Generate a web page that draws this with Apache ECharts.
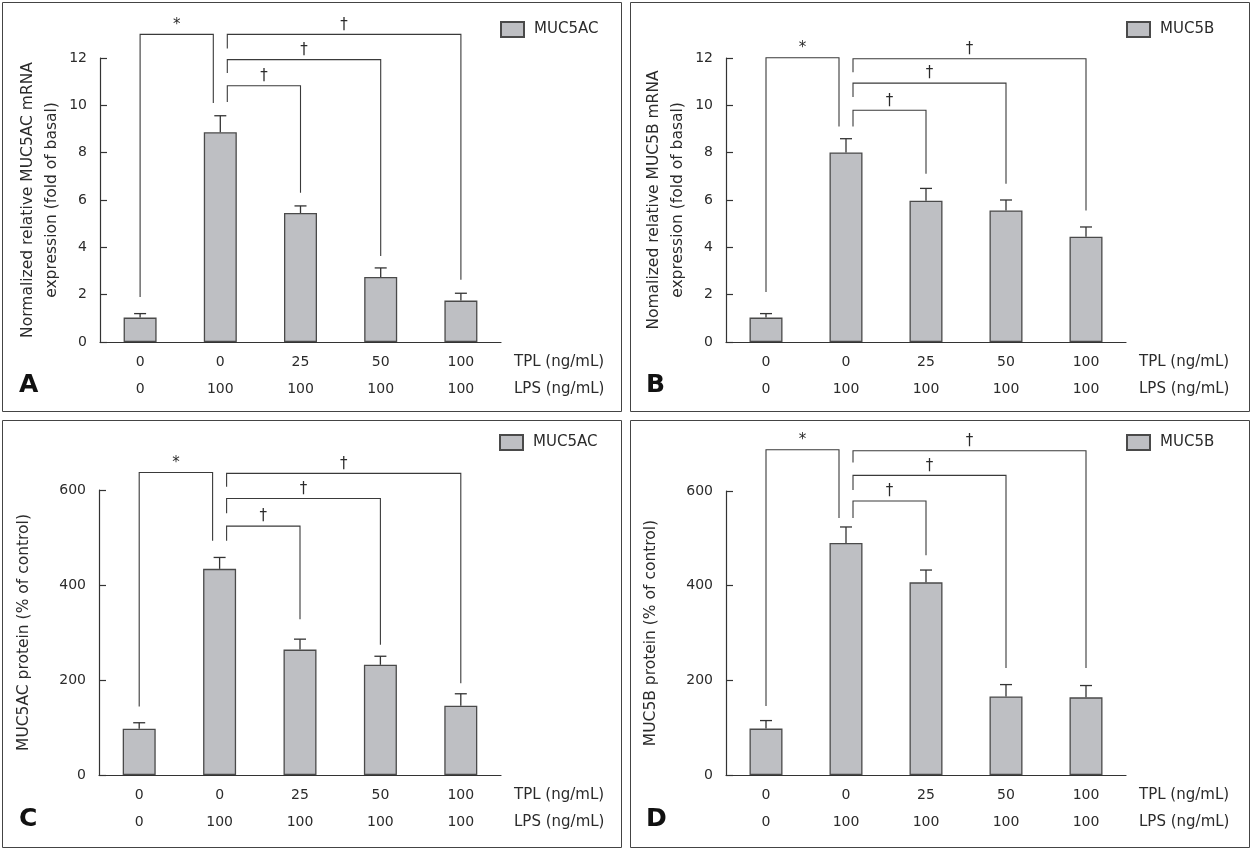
<!DOCTYPE html>
<html>
<head>
<meta charset="utf-8">
<script src="https://cdn.jsdelivr.net/npm/echarts@6/dist/echarts.min.js"></script>
<style>html,body{margin:0;padding:0;background:#fff}#c{width:1252px;height:849px}</style>
</head>
<body>
<div id="c"></div>
<script>
// ---- data ----
const tplLabels = ['0', '0', '25', '50', '100'];
const lpsLabels = ['0', '100', '100', '100', '100'];
const panelLetters = ['A', 'B', 'C', 'D'];
const seriesNames = ['MUC5AC', 'MUC5B', 'MUC5AC', 'MUC5B'];
const yNames = [
  'Normalized relative MUC5AC mRNA\nexpression (fold of basal)',
  'Nomalized relative MUC5B mRNA\nexpression (fold of basal)',
  'MUC5AC protein (% of control)',
  'MUC5B protein (% of control)'
];
const yMax = [12, 12, 600, 600];
const yStep = [2, 2, 200, 200];

const mrnaMUC5AC = [1.03, 8.86, 5.45, 2.75, 1.75];
const mrnaMUC5ACsem = [0.17, 0.70, 0.30, 0.38, 0.31];
const mrnaMUC5B = [1.03, 8.01, 5.97, 5.56, 4.45];
const mrnaMUC5Bsem = [0.17, 0.58, 0.52, 0.44, 0.41];
const protMUC5AC = [97.5, 434, 264, 232, 146];
const protMUC5ACsem = [12.5, 24, 22, 18, 25];
const protMUC5B = [98, 490, 407, 166, 164];
const protMUC5Bsem = [17, 34, 26, 25, 25];

// brackets: [fromIndex, toIndex, topValue, fromLegBottom, toLegBottom]
const bracketsA = [[0, 1, 13.0, 1.9, 10.1], [1, 2, 10.83, 10.14, 6.31], [1, 3, 11.93, 11.37, 3.63], [1, 4, 13.0, 12.4, 2.63]];
const bracketsB = [[0, 1, 12.01, 2.11, 9.11], [1, 2, 9.79, 9.11, 7.11], [1, 3, 10.94, 10.35, 6.69], [1, 4, 11.97, 11.4, 5.56]];
const bracketsC = [[0, 1, 637, 144, 493], [1, 2, 524, 493, 328], [1, 3, 582, 551, 274], [1, 4, 635, 607, 193]];
const bracketsD = [[0, 1, 687, 146, 543], [1, 2, 579, 543, 464], [1, 3, 633, 602, 226], [1, 4, 685, 660, 226]];
const bracketMarks = ['*', '\u2020', '\u2020', '\u2020'];

const values = [mrnaMUC5AC, mrnaMUC5B, protMUC5AC, protMUC5B];
const sems = [mrnaMUC5ACsem, mrnaMUC5Bsem, protMUC5ACsem, protMUC5Bsem];
const brackets = [bracketsA, bracketsB, bracketsC, bracketsD];

// ---- layout / style ----
const FONT = 'DejaVu Sans';
const TXT = '#2b2b2b';
const LINE = '#333';
const grids = [
  {left: 100, top: 58, width: 401, height: 284},
  {left: 726, top: 58, width: 400, height: 284},
  {left: 99, top: 490, width: 402, height: 285},
  {left: 726, top: 491, width: 400, height: 284}
];
const nameGaps = [36, 36, 63, 63];

const chart = echarts.init(document.getElementById('c'), null, {renderer: 'canvas'});

const xAxes = [], yAxes = [], series = [], legends = [], titles = [];

grids.forEach((g, i) => {
  xAxes.push({
    type: 'category', gridIndex: i, data: tplLabels, boundaryGap: true,
    axisLine: {lineStyle: {color: LINE, width: 1.2}},
    axisTick: {inside: true, length: 8, lineStyle: {color: LINE, width: 1.2}},
    axisLabel: {show: false}
  });
  [[tplLabels, 'TPL (ng/mL)', 20.5], [lpsLabels, 'LPS (ng/mL)', 47.5]].forEach(([labs, nm, off]) => {
    xAxes.push({
      type: 'category', gridIndex: i, data: labs, position: 'bottom', offset: off,
      axisLine: {show: false}, axisTick: {show: false},
      axisLabel: {margin: 0, verticalAlign: 'middle', color: TXT, fontFamily: FONT, fontSize: 14},
      name: nm, nameLocation: 'end', nameGap: 13,
      nameTextStyle: {color: TXT, fontFamily: FONT, fontSize: 15, verticalAlign: 'middle'}
    });
  });
  yAxes.push({
    type: 'value', gridIndex: i, min: 0, max: yMax[i], interval: yStep[i],
    axisLine: {show: true, lineStyle: {color: LINE, width: 1.2}},
    axisTick: {show: true, inside: true, length: 7, lineStyle: {color: LINE, width: 1.2}},
    splitLine: {show: false},
    axisLabel: {margin: 13, color: TXT, fontFamily: FONT, fontSize: 14},
    name: yNames[i], nameLocation: 'middle', nameGap: nameGaps[i], nameRotate: 90,
    nameTextStyle: {color: TXT, fontFamily: FONT, fontSize: 15.5, lineHeight: 24, align: 'center'}
  });
  series.push({
    type: 'bar', name: seriesNames[i], xAxisIndex: i * 3, yAxisIndex: i,
    data: values[i], barWidth: 33,
    itemStyle: {color: '#bebfc3', borderColor: '#4a4a4a', borderWidth: 1.3},
    z: 2, silent: true
  });
  series.push({
    type: 'custom', xAxisIndex: i * 3, yAxisIndex: i,
    data: values[i].map((v, k) => [k, v, v + sems[i][k]]),
    z: 3, silent: true,
    renderItem: function (params, api) {
      const x = api.value(0), v = api.value(1), e = api.value(2);
      const p0 = api.coord([x, v]), p1 = api.coord([x, e]);
      const st = {stroke: '#333', lineWidth: 1.3};
      return {type: 'group', children: [
        {type: 'line', shape: {x1: p0[0], y1: p0[1], x2: p1[0], y2: p1[1]}, style: st},
        {type: 'line', shape: {x1: p1[0] - 6, y1: p1[1], x2: p1[0] + 6, y2: p1[1]}, style: st}
      ]};
    }
  });
  series.push({
    type: 'custom', xAxisIndex: i * 3, yAxisIndex: i,
    data: brackets[i], clip: false, z: 4, silent: true,
    renderItem: function (params, api) {
      const a = api.value(0), b = api.value(1), top = api.value(2), la = api.value(3), lb = api.value(4);
      const off = 7;
      let xa = api.coord([a, top])[0], xb = api.coord([b, top])[0];
      if (a === 1) xa += off;
      if (b === 1) xb -= off;
      const yt = api.coord([a, top])[1];
      const ya = api.coord([a, la])[1];
      const yb = api.coord([b, lb])[1];
      const st = {stroke: '#3a3a3a', lineWidth: 1.1, fill: null};
      return {type: 'group', children: [
        {type: 'polyline', shape: {points: [[xa, ya], [xa, yt], [xb, yt], [xb, yb]]}, style: st},
        {type: 'text', style: {text: bracketMarks[params.dataIndex], x: (xa + xb) / 2, y: yt - 2,
          align: 'center', verticalAlign: 'bottom', fill: TXT, font: '15px "' + FONT + '"'}}
      ]};
    }
  });
  legends.push({
    data: [seriesNames[i]], left: g.left + 400, top: i < 2 ? 21 : 434,
    icon: 'rect', itemWidth: 23, itemHeight: 15, padding: 0,
    textStyle: {color: TXT, fontFamily: FONT, fontSize: 15, padding: [0, 0, 0, 5]},
    selectedMode: false
  });
  titles.push({
    text: panelLetters[i], left: i % 2 === 0 ? 19 : 646, top: i < 2 ? 373 : 807, padding: 0,
    textStyle: {fontFamily: 'DejaVu Sans', fontWeight: 'bold', fontSize: 25, color: '#111'}
  });
});

const panelRects = [[2.5, 2.5, 619, 409], [630.5, 2.5, 619, 409], [2.5, 420.5, 619, 427], [630.5, 420.5, 619, 427]];

chart.setOption({
  animation: false,
  backgroundColor: '#fff',
  title: titles,
  legend: legends,
  grid: grids,
  xAxis: xAxes,
  yAxis: yAxes,
  series: series,
  graphic: panelRects.map(r => ({
    type: 'rect', shape: {x: r[0], y: r[1], width: r[2], height: r[3]},
    style: {fill: null, stroke: '#444', lineWidth: 1}, silent: true, z: -1
  }))
});
</script>
</body>
</html>
